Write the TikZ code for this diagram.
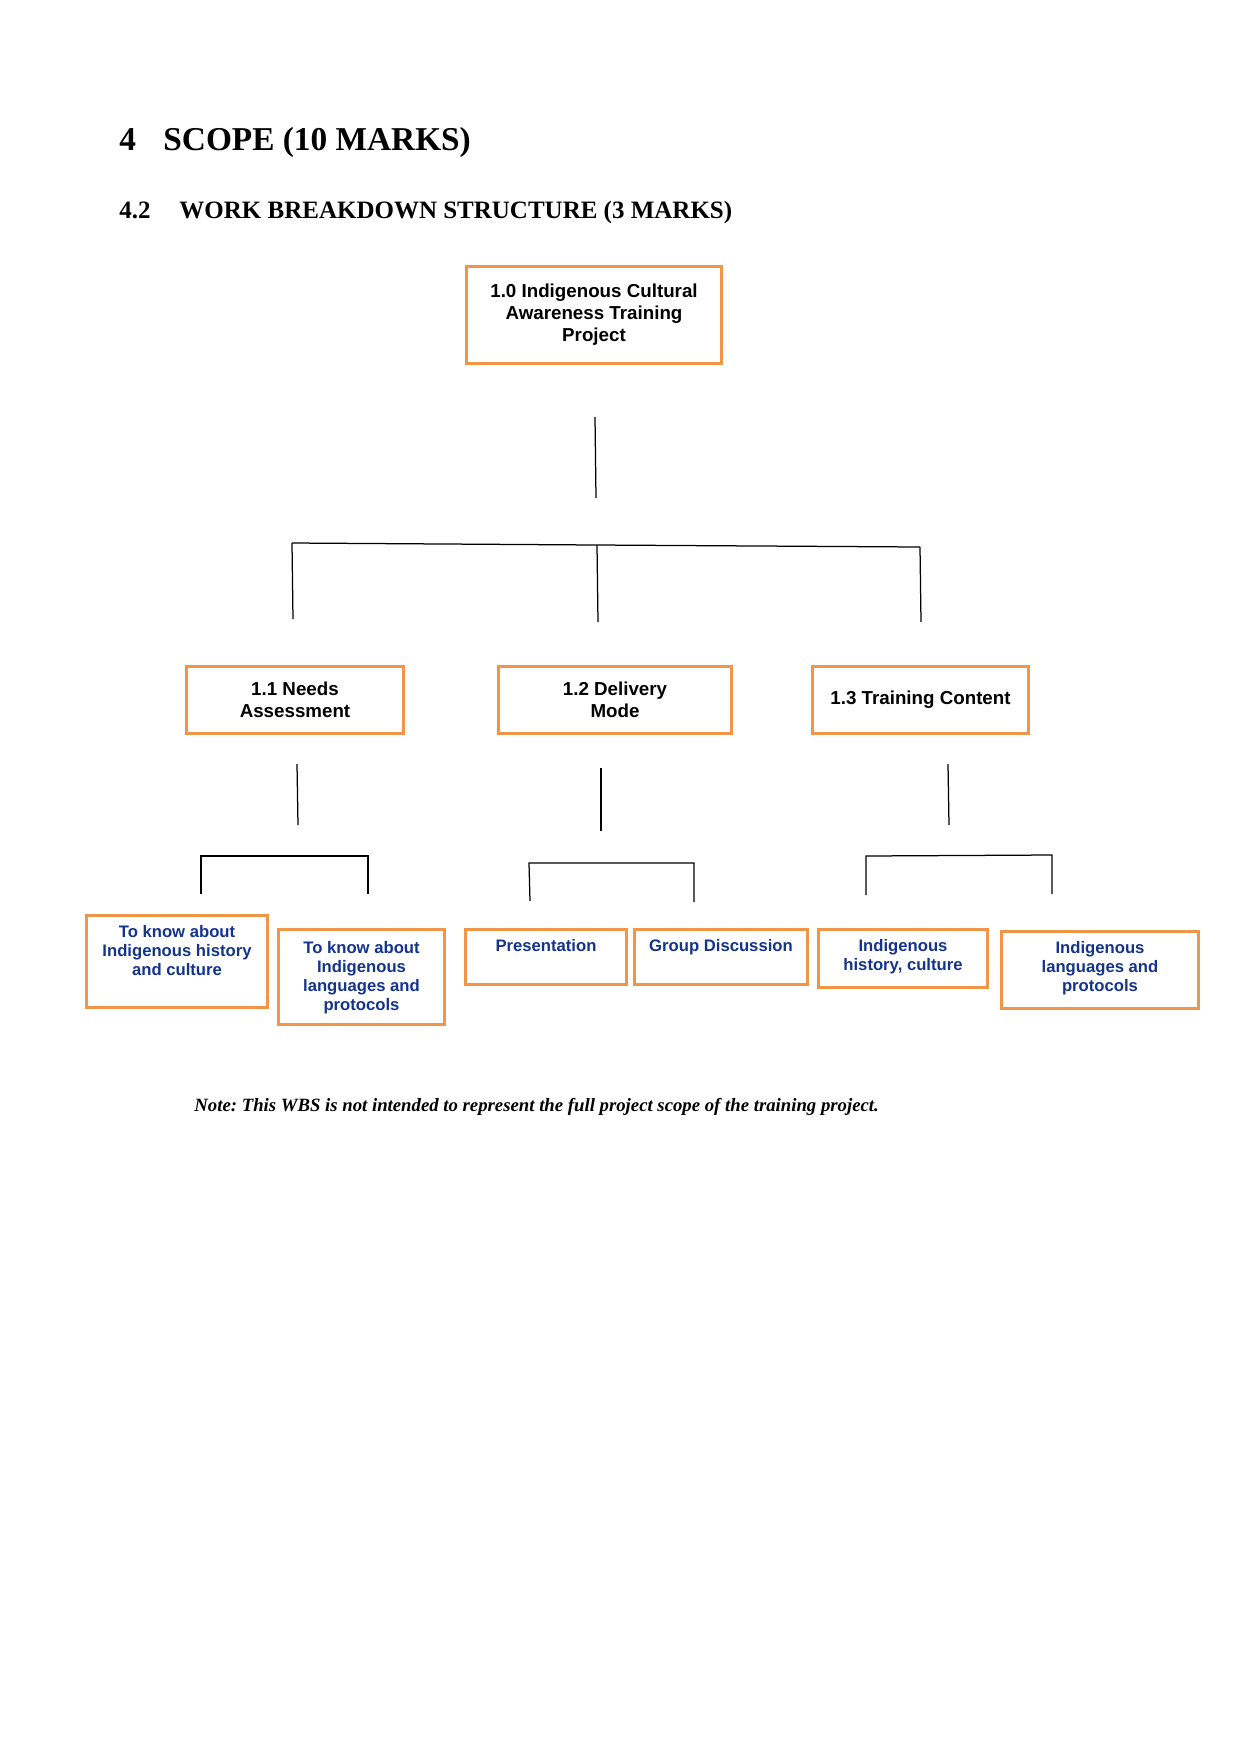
\documentclass[tikz,border=0pt]{standalone}
\usepackage{fontspec}
\setmainfont{Liberation Serif}
\setsansfont{Liberation Sans}
\usetikzlibrary{positioning}
\frenchspacing

\definecolor{wbsorange}{RGB}{241,150,72}
\definecolor{wbsblue}{RGB}{20,52,140}

\begin{document}
\begin{tikzpicture}[
  x=0.48pt, y=-0.48pt,
  wbsbox/.style={draw=wbsorange, line width=1.7pt, rectangle, align=center,
    inner sep=0pt, font=\sffamily\bfseries\fontsize{9}{10.6}\selectfont},
  leafbox/.style={draw=wbsorange, line width=1.7pt, rectangle, inner sep=0pt},
  leaftext/.style={align=center, inner sep=0pt, text=wbsblue,
    font=\sffamily\bfseries\fontsize{8}{9.2}\selectfont},
  wire/.style={draw, line width=0.6pt}
]
  \useasboundingbox[fill=white] (0,0) rectangle (1241,1754);

  % headings
  \node[anchor=base west, inner sep=0pt, font=\bfseries\fontsize{16}{19}\selectfont] (secnum) at (119,150) {4};
  \node[anchor=base west, inner sep=0pt, font=\bfseries\fontsize{16}{19}\selectfont] (sectitle) at (163,150) {SCOPE (10 MARKS)};
  \node[anchor=base west, inner sep=0pt, font=\bfseries\fontsize{12}{14}\selectfont] (subnum) at (119,218) {4.2};
  \node[anchor=base west, inner sep=0pt, font=\bfseries\fontsize{12}{14}\selectfont] (subtitle) at (179,218) {WORK BREAKDOWN STRUCTURE (3 MARKS)};

  % level 0 and 1
  \node[wbsbox, minimum width=122.4pt, minimum height=46.6pt] (proj) at (594,315) {1.0 Indigenous Cultural\\Awareness Training\\Project};
  \node[wbsbox, minimum width=104.2pt, minimum height=32.2pt] (needs) at (295,700) {1.1 Needs\\Assessment};
  \node[wbsbox, minimum width=111.8pt, minimum height=32.2pt] (deliv) at (615,700) {1.2 Delivery\\Mode};
  \node[wbsbox, minimum width=103.7pt, minimum height=32.2pt] (content) at (920.5,700) {1.3 Training Content};

  % level 2
  \node[leafbox, minimum width=86.9pt, minimum height=44.2pt] (hist) at (177,961.5) {};
  \node[leafbox, minimum width=79.7pt, minimum height=45.6pt] (lang) at (361.5,977) {};
  \node[leafbox, minimum width=77.3pt, minimum height=26.4pt] (pres) at (546,957) {};
  \node[leafbox, minimum width=83pt, minimum height=26.4pt] (disc) at (721,957) {};
  \node[leafbox, minimum width=81.1pt, minimum height=27.8pt] (ihist) at (903,958.5) {};
  \node[leafbox, minimum width=94.6pt, minimum height=37pt] (ilang) at (1100,970) {};

  \node[leaftext, below=5.4pt of hist.north] (hist-t) {To know about\\Indigenous history\\and culture};
  \node[leaftext, below=6.3pt of lang.north] (lang-t) {To know about\\Indigenous\\languages and\\protocols};
  \node[leaftext, below=5.4pt of pres.north] (pres-t) {Presentation};
  \node[leaftext, below=5.4pt of disc.north] (disc-t) {Group Discussion};
  \node[leaftext, below=5.4pt of ihist.north] (ihist-t) {Indigenous\\history, culture};
  \node[leaftext, below=5.4pt of ilang.north] (ilang-t) {Indigenous\\languages and\\protocols};

  % connector ends
  \coordinate (s0a) at (595,417);  \coordinate (s0b) at (596,498);
  \coordinate (b0l) at (292,543);  \coordinate (b0m) at (597,545);  \coordinate (b0r) at (920,547);
  \coordinate (d1) at (293,619);   \coordinate (d2) at (598,622);   \coordinate (d3) at (921,622);

  \coordinate (s1a) at (297,764);  \coordinate (s1b) at (298,825);
  \coordinate (b1l) at (201,856);  \coordinate (b1r) at (368,856);
  \coordinate (d11) at (201,894);  \coordinate (d12) at (368,894);

  \coordinate (s2a) at (601,768);  \coordinate (s2b) at (601,831);
  \coordinate (b2l) at (529,863);  \coordinate (b2r) at (694,863);
  \coordinate (d21) at (530,901);  \coordinate (d22) at (694,902);

  \coordinate (s3a) at (948,764);  \coordinate (s3b) at (949,825);
  \coordinate (b3l) at (866,856);  \coordinate (b3r) at (1052,855);
  \coordinate (d31) at (866,895);  \coordinate (d32) at (1052,894);

  % connectors
  \draw[wire] (s0a) -- (s0b);
  \draw[wire] (b0l) -- (b0m) -- (b0r);
  \draw[wire] (b0l) -- (d1);
  \draw[wire] (b0m) -- (d2);
  \draw[wire] (b0r) -- (d3);

  \draw[wire] (s1a) -- (s1b);
  \draw[wire] (d11) -- (b1l) -- (b1r) -- (d12);
  \draw[wire] (s2a) -- (s2b);
  \draw[wire] (d21) -- (b2l) -- (b2r) -- (d22);
  \draw[wire] (s3a) -- (s3b);
  \draw[wire] (d31) -- (b3l) -- (b3r) -- (d32);

  % note
  \node[anchor=base west, inner sep=0pt, font=\bfseries\itshape\fontsize{9}{11}\selectfont] (note) at (194,1111)
    {Note: This WBS is not intended to represent the full project scope of the training project.};
\end{tikzpicture}
\end{document}
